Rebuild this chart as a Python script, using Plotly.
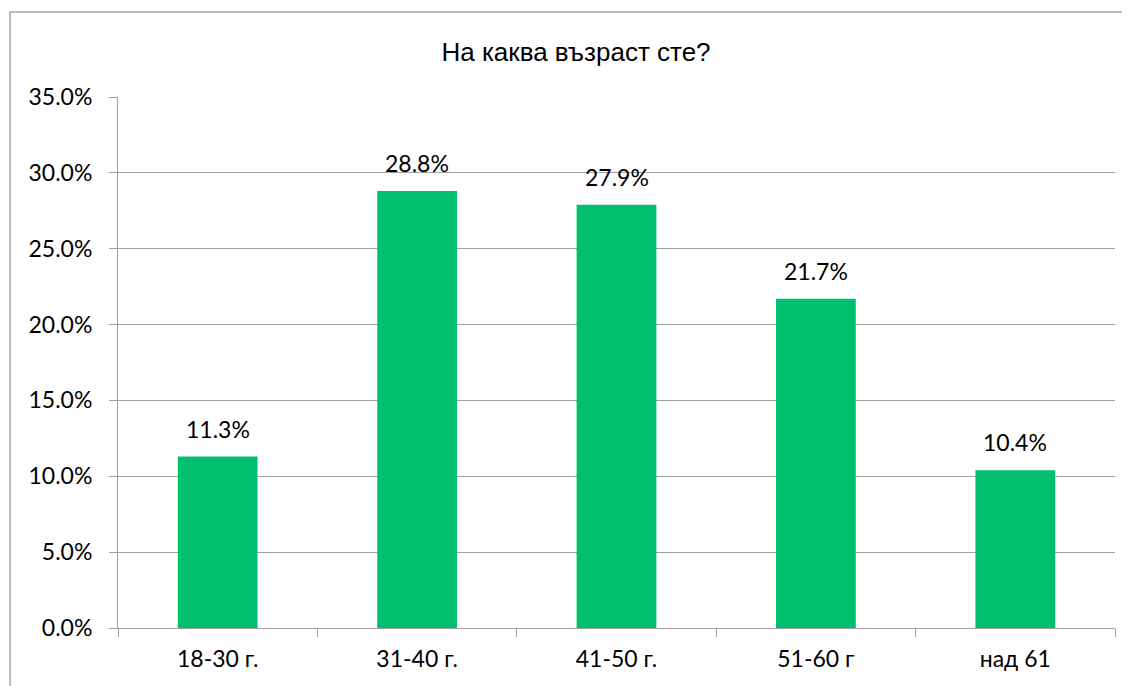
import plotly.graph_objects as go

categories = ["18-30 г.", "31-40 г.", "41-50 г.", "51-60 г", "над 61"]
values = [0.113, 0.288, 0.279, 0.217, 0.104]
labels = ["11.3%", "28.8%", "27.9%", "21.7%", "10.4%"]
title_text = "На каква възраст сте?"

# page body has an 8px margin, so the figure is sized/offset to compensate
W, H = 1122, 678
ml, mr, mt, mb = 110, 15, 89, 58
pw, ph = W - ml - mr, H - mt - mb
FONT = "Lato, Open Sans, sans-serif"
FS = 23

fig = go.Figure(go.Bar(
    x=categories, y=values,
    marker=dict(color="#00C070", line=dict(width=0)),
    width=0.4, hoverinfo="x+y",
))

for c, v, t in zip(categories, values, labels):
    fig.add_annotation(x=c, y=v, text=t, showarrow=False, xref="x", yref="y",
                       yanchor="bottom", yshift=12,
                       font=dict(family=FONT, size=FS, color="#000000"))

fig.update_layout(
    width=W, height=H,
    margin=dict(l=ml, r=mr, t=mt, b=mb),
    paper_bgcolor="white", plot_bgcolor="white",
    showlegend=False,
    title=dict(text=title_text, x=568 / W, xanchor="center", xref="container",
               y=1 - 44 / H, yanchor="middle", yref="container",
               font=dict(family="Liberation Sans, Arial, sans-serif", size=26, color="#000000")),
    font=dict(family=FONT, size=FS, color="#000000"),
)

fig.update_yaxes(
    range=[0, 0.35], dtick=0.05, tickformat=".1%",
    showgrid=True, gridcolor="#A0A0A0", gridwidth=1,
    showline=True, linecolor="#A0A0A0", linewidth=1,
    ticks="outside", ticklen=8, tickcolor="#A0A0A0",
    zeroline=False, ticklabelstandoff=12,
    tickfont=dict(family=FONT, size=FS, color="#000000"),
)
fig.update_xaxes(
    showline=True, linecolor="#A0A0A0", linewidth=1,
    ticks="outside", tickson="boundaries", ticklen=8, tickcolor="#A0A0A0",
    showgrid=False, ticklabelstandoff=10,
    tickfont=dict(family=FONT, size=FS, color="#000000"),
)

fig.add_shape(type="rect", xref="paper", yref="paper",
              x0=(2 - ml) / pw, x1=(W + 20 - ml) / pw,
              y0=-(mb + 20) / ph, y1=1 + (mt - 4) / ph,
              line=dict(color="#A6A6A6", width=1.5), fillcolor="rgba(0,0,0,0)", layer="below")

fig.write_html("out.html")
